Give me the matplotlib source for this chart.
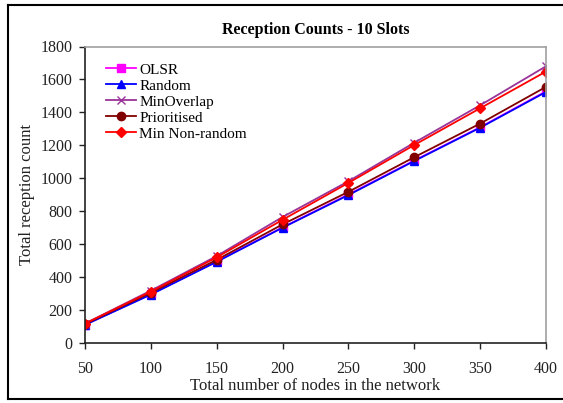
import matplotlib
matplotlib.use("Agg")
import matplotlib.pyplot as plt
from matplotlib.lines import Line2D

nodes = [50, 100, 150, 200, 250, 300, 350, 400]
olsr = [112, 297, 496, 702, 902, 1108, 1310, 1528]
random_ = [110, 294, 493, 700, 898, 1105, 1307, 1524]
min_overlap = [118, 318, 528, 765, 982, 1216, 1443, 1680]
prioritised = [115, 305, 505, 720, 918, 1128, 1332, 1555]
min_non_random = [118, 312, 520, 748, 972, 1202, 1425, 1648]

series_names = ["OLSR", "Random", "MinOverlap", "Prioritised", "Min Non-random"]
series_vals = [olsr, random_, min_overlap, prioritised, min_non_random]
colors = ["#FF00FF", "#0000FF", "#993399", "#800000", "#FF0000"]
markers = ["s", "^", "x", "o", "D"]
msizes = [6, 6, 6, 6, 5]

plt.rcParams['font.family'] = ['Liberation Serif', 'DejaVu Serif']

fig = plt.figure(figsize=(5.63, 4.03), dpi=100)
ax = fig.add_axes([85/563, 1-343/403, (546-85)/563, (343-46.5)/403])

for name, vals, c, m, ms in zip(series_names, series_vals, colors, markers, msizes):
    ax.plot(nodes, vals, color=c, marker=m, markersize=ms, linewidth=1.3,
            markeredgecolor=c, markerfacecolor=c, label=name)

ax.set_xlim(50, 400)
ax.set_ylim(0, 1800)
ax.set_xticks(nodes)
ax.set_yticks(range(0, 1801, 200))
ax.tick_params(axis='both', direction='out', length=4, width=1, labelsize=11.5, colors='#222222')
ax.tick_params(axis='x', pad=9)
ax.tick_params(axis='y', pad=5)
for s in ['left', 'bottom']:
    ax.spines[s].set_color('#222222')
    ax.spines[s].set_linewidth(1.2)
for s in ['top', 'right']:
    ax.spines[s].set_color('#A0A0A0')
    ax.spines[s].set_linewidth(1.2)

ax.set_xlabel("Total number of nodes in the network", fontsize=12, color='#222222', labelpad=1)
ax.set_ylabel("Total reception count", fontsize=12, color='#222222', labelpad=4)
ax.set_title("Reception Counts - 10 Slots", fontsize=11.5, fontweight='bold', pad=9)

ax.legend(loc='upper left', bbox_to_anchor=(0.025, 0.975), frameon=False, fontsize=11,
          handlelength=2.0, handletextpad=0.2, labelspacing=0.15, borderaxespad=0.2)

# figure border
fig.add_artist(Line2D([8/563, 8/563], [1-5/403, 1-399/403], transform=fig.transFigure, color='black', lw=1.5))
fig.add_artist(Line2D([8/563, 1.0], [1-5/403, 1-5/403], transform=fig.transFigure, color='black', lw=1.5))
fig.add_artist(Line2D([8/563, 1.0], [1-399/403, 1-399/403], transform=fig.transFigure, color='black', lw=1.5))

fig.savefig("out.png", dpi=100)
